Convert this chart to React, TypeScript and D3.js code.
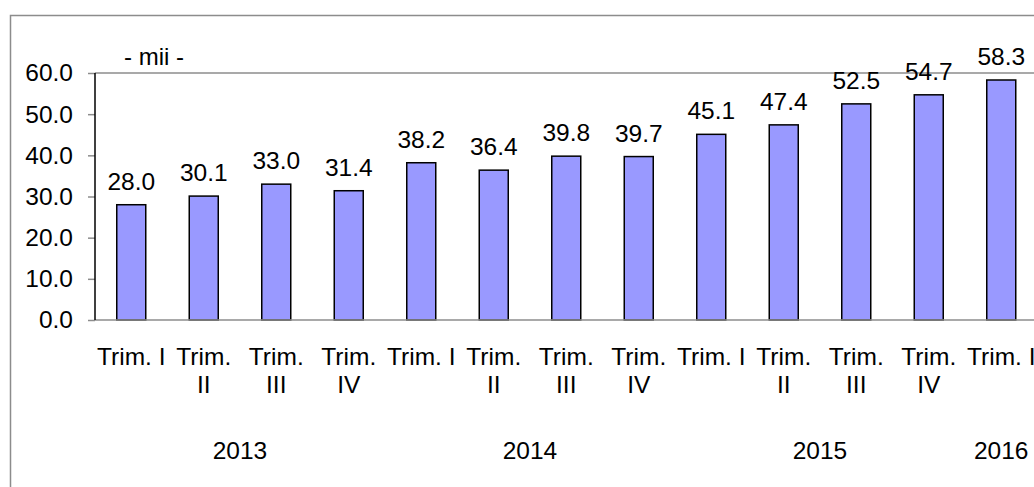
import React, { useEffect, useRef } from "react";
import * as d3 from "d3";

const quarters = [
  "Trim. I", "Trim. II", "Trim. III", "Trim. IV",
  "Trim. I", "Trim. II", "Trim. III", "Trim. IV",
  "Trim. I", "Trim. II", "Trim. III", "Trim. IV",
  "Trim. I",
];
const values = [28.0, 30.1, 33.0, 31.4, 38.2, 36.4, 39.8, 39.7, 45.1, 47.4, 52.5, 54.7, 58.3];
const years = ["2013", "2014", "2015", "2016"];
const yearSpans = [4, 4, 4, 1];
const yTicks = [0, 10, 20, 30, 40, 50, 60];
const unitLabel = "- mii -";

const App = () => {
  const svgRef = useRef<SVGSVGElement>(null);

  useEffect(() => {
    const svg = d3.select(svgRef.current);
    svg.selectAll("*").remove();

    const W = 1034;
    const H = 487;
    const left = 95;
    const top = 73;
    const bottom = 320;
    const step = 72.5;
    const right = left + step * quarters.length;
    const font = "'Liberation Sans', Arial, sans-serif";
    const fs = 24.5;

    // outer frame
    svg
      .append("rect")
      .attr("x", 10.5)
      .attr("y", 15.5)
      .attr("width", W)
      .attr("height", H)
      .attr("fill", "white")
      .attr("stroke", "#8c8c8c")
      .attr("stroke-width", 1.5);

    const x = d3
      .scaleBand<number>()
      .domain(d3.range(quarters.length))
      .range([left, right])
      .paddingInner(0.6)
      .paddingOuter(0.3);
    const y = d3.scaleLinear().domain([0, 60]).range([bottom, top]);

    // top border of the plot (60 gridline)
    svg
      .append("line")
      .attr("x1", left)
      .attr("x2", W)
      .attr("y1", y(60))
      .attr("y2", y(60))
      .attr("stroke", "#8c8c8c")
      .attr("stroke-width", 1.5);

    // y axis
    const yAxis = svg
      .append("g")
      .attr("transform", `translate(${left},0)`)
      .call(
        d3
          .axisLeft(y)
          .tickValues(yTicks)
          .tickFormat(d3.format(".1f"))
          .tickSize(7)
          .tickPadding(15)
      );
    yAxis.select(".domain").remove();
    yAxis.selectAll(".tick line").attr("stroke", "#8c8c8c").attr("stroke-width", 1.5);
    yAxis
      .selectAll("text")
      .attr("font-family", font)
      .attr("font-size", fs)
      .attr("fill", "#000");

    // bars
    svg
      .selectAll(".bar")
      .data(values)
      .enter()
      .append("rect")
      .attr("class", "bar")
      .attr("x", (_d, i) => x(i)!)
      .attr("y", (d) => y(d))
      .attr("width", x.bandwidth())
      .attr("height", (d) => bottom - y(d))
      .attr("fill", "#9999ff")
      .attr("stroke", "#000")
      .attr("stroke-width", 1.5);

    // value labels
    svg
      .selectAll(".val")
      .data(values)
      .enter()
      .append("text")
      .attr("x", (_d, i) => x(i)! + x.bandwidth() / 2)
      .attr("y", (d) => y(d) - 15)
      .attr("text-anchor", "middle")
      .attr("font-family", font)
      .attr("font-size", fs)
      .text((d) => d.toFixed(1));

    // axes lines
    svg
      .append("line")
      .attr("x1", left)
      .attr("x2", W)
      .attr("y1", bottom)
      .attr("y2", bottom)
      .attr("stroke", "#8c8c8c")
      .attr("stroke-width", 1.5);
    svg
      .append("line")
      .attr("x1", left)
      .attr("x2", left)
      .attr("y1", top)
      .attr("y2", bottom)
      .attr("stroke", "#000")
      .attr("stroke-width", 1.5);

    // category labels
    const cats = svg
      .selectAll(".cat")
      .data(quarters)
      .enter()
      .append("text")
      .attr("text-anchor", "middle")
      .attr("font-family", font)
      .attr("font-size", fs);
    cats.each(function (d, i) {
      const t = d3.select(this);
      const cx = x(i)! + x.bandwidth() / 2;
      if (d === "Trim. I") {
        t.append("tspan").attr("x", cx).attr("y", 365).text(d);
      } else {
        const [a, b] = d.split(" ");
        t.append("tspan").attr("x", cx).attr("y", 365).text(a);
        t.append("tspan").attr("x", cx).attr("y", 393).text(b);
      }
    });

    // year labels
    let start = 0;
    years.forEach((yr, k) => {
      const span = yearSpans[k];
      const cx = left + step * (start + span / 2);
      svg
        .append("text")
        .attr("x", cx)
        .attr("y", 459)
        .attr("text-anchor", "middle")
        .attr("font-family", font)
        .attr("font-size", fs)
        .text(yr);
      start += span;
    });

    // unit label
    svg
      .append("text")
      .attr("x", 154)
      .attr("y", 65)
      .attr("text-anchor", "middle")
      .attr("font-family", font)
      .attr("font-size", 24)
      .text(unitLabel);
  }, []);

  return (
    <svg
      ref={svgRef}
      width={1034}
      height={487}
      style={{ position: "absolute", left: 0, top: 0, background: "white" }}
    ></svg>
  );
};

export default App;
